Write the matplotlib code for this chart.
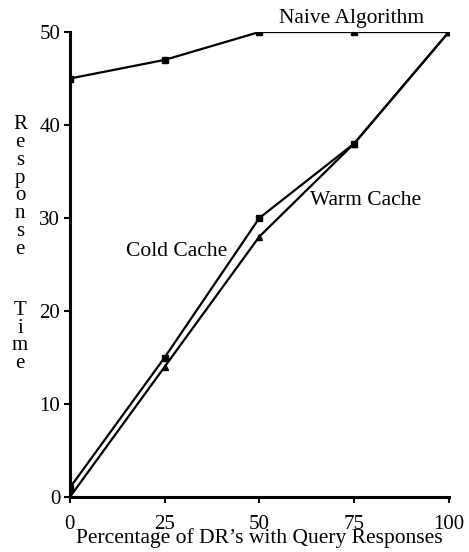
import matplotlib
matplotlib.use("Agg")
import matplotlib.pyplot as plt

x = [0, 25, 50, 75, 100]
naive = [45, 47, 50, 50, 50]
cold = [1, 15, 30, 38, 50]
warm = [0, 14, 28, 38, 50]
xticks = [0, 25, 50, 75, 100]
yticks = [0, 10, 20, 30, 40, 50]

plt.rcParams['font.family'] = ['Liberation Serif', 'DejaVu Serif']

fig = plt.figure(figsize=(4.69, 5.52), dpi=100)
ax = fig.add_axes([0.149, 0.0996, 0.808, 0.8424])

ax.plot(x, naive, color='black', lw=1.6, marker='s', ms=4)
ax.plot(x, cold, color='black', lw=1.6, marker='s', ms=4)
ax.plot(x, warm, color='black', lw=1.6, marker='^', ms=4)

ax.set_xlim(0, 100)
ax.set_ylim(0, 50)
ax.set_xticks(xticks)
ax.set_yticks(yticks)
ax.tick_params(axis='both', labelsize=15, length=4, width=1.5, color='black')
ax.tick_params(axis='x', pad=9)
ax.tick_params(axis='y', pad=3)
for s in ['top', 'right']:
    ax.spines[s].set_visible(False)
for s in ['left', 'bottom']:
    ax.spines[s].set_linewidth(2.2)
ax.set_xlabel("Percentage of DR\u2019s with Query Responses", fontsize=15.5, labelpad=-4)

fig.text(20 / 469, 1 - 187 / 552, "\n".join("Response"), fontsize=15,
         ha='center', va='center', linespacing=0.92)
fig.text(20 / 469, 1 - 337 / 552, "\n".join("Time"), fontsize=15,
         ha='center', va='center', linespacing=0.92)

fig.text(352 / 469, 1 - 18 / 552, "Naive Algorithm", fontsize=15.5, ha='center', va='center')
fig.text(366 / 469, 1 - 200 / 552, "Warm Cache", fontsize=15.5, ha='center', va='center')
fig.text(177 / 469, 1 - 251 / 552, "Cold Cache", fontsize=15.5, ha='center', va='center')

fig.savefig("out.png", dpi=100)
